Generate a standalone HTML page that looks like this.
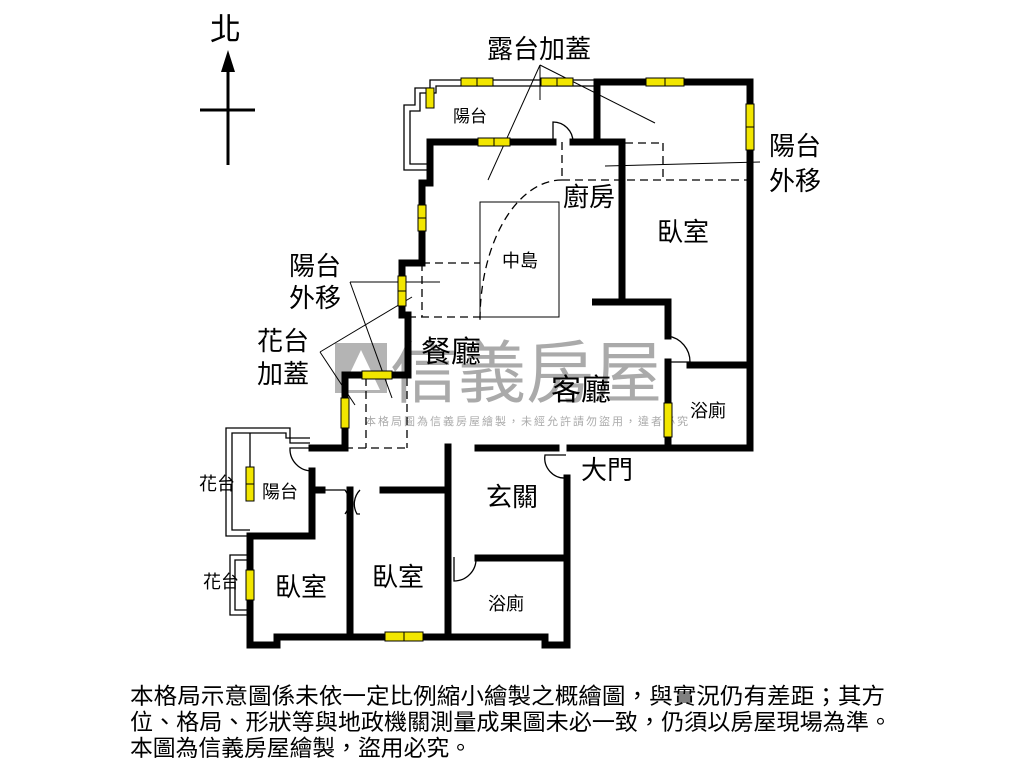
<!DOCTYPE html>
<html><head><meta charset="utf-8"><style>
body{margin:0;background:#fff;width:1024px;height:768px;overflow:hidden}
svg text{font-family:"Liberation Sans","Noto Sans CJK TC",sans-serif;fill:#000}
</style></head><body>
<svg width="1024" height="768" viewBox="0 0 1024 768" xmlns="http://www.w3.org/2000/svg">
<!-- compass -->
<text x="210" y="40" font-size="31">北</text>
<line x1="228" y1="70" x2="228" y2="165" stroke="#000" stroke-width="3"/>
<line x1="200" y1="110" x2="255" y2="110" stroke="#000" stroke-width="3"/>
<polygon points="228,50 221,72 235,72" fill="#000"/>

<!-- watermark -->
<g opacity="0.55">
<rect x="335" y="343" width="52" height="50" fill="#777"/>
<polygon points="342,390 361,350 380,390" fill="#fff"/>
<text x="390" y="397" font-size="68" style="fill:#666">信義房屋</text>
<text x="365" y="425" font-size="11" style="fill:#666" letter-spacing="2">本格局圖為信義房屋繪製，未經允許請勿盜用，違者必究</text>
</g>

<!-- thin double lines (balconies) -->
<g fill="none" stroke="#000" stroke-width="1.3">
<polyline points="597,80 430,80 430,88 415,88 415,105 404,105 404,170 430,170"/>
<polyline points="597,86 436,86 436,93 420,93 420,111 410,111 410,164 430,164"/>
<polyline points="310,443 290,443 290,428 226,428 226,536 250,536"/>
<polyline points="310,438 286,438 286,433 232,433 232,530 250,530"/>
<polyline points="250,555 230,555 230,615 250,615"/>
<polyline points="250,560 235,560 235,610 250,610"/>
<polyline points="250,433 250,470"/>
</g>

<!-- walls -->
<g fill="none" stroke="#000" stroke-width="7" stroke-linecap="square">
<polyline points="597,140 597,82 750,82 750,448"/>
<polyline points="553,142 430,142 430,183 422,183 422,263 402,263 402,315 408,315 408,375 345,375 345,448 312,448"/>
<polyline points="573,142 622,142 622,302 592,302 622,302 668,302 668,336"/>
<polyline points="668,362 668,448"/>
<polyline points="690,365 750,365"/>
<polyline points="478,448 556,448"/>
<polyline points="570,448 750,448"/>
<polyline points="312,471 312,536 250,536 250,645 277,645 277,637 545,637 545,645 567,645 567,478"/>
<polyline points="312,490 322,490"/>
<polyline points="383,490 448,490"/>
<polyline points="350,490 350,637"/>
<polyline points="448,447 448,637"/>
<polyline points="478,558 567,558"/>
</g>

<!-- doors -->
<g fill="none" stroke="#000" stroke-width="1.3">
<path d="M553,142 L553,122 A20,20 0 0 1 573,142"/>
<path d="M668,336 A26,26 0 0 1 690,362 L668,362"/>
<path d="M312,448 L290,448 A22,22 0 0 0 312,471"/>
<path d="M325,490 L345,490 A20,20 0 0 1 345,514"/>
<path d="M360,490 A20,20 0 0 0 357,514 L360,514"/>
<path d="M566,478 A20,20 0 0 1 545,455 L566,455"/>
<path d="M454,557 L454,581 A22,22 0 0 0 476,558"/>
</g>

<!-- dashed -->
<g fill="none" stroke="#000" stroke-width="1.3" stroke-dasharray="8,5">
<line x1="422" y1="263" x2="480" y2="263"/>
<line x1="408" y1="317" x2="480" y2="317"/>
<line x1="422" y1="263" x2="422" y2="317"/>
<line x1="562" y1="142" x2="562" y2="180"/>
<line x1="562" y1="180" x2="750" y2="180"/>
<line x1="625" y1="143" x2="663" y2="143"/>
<line x1="663" y1="143" x2="663" y2="180"/>
<path d="M562,180 A82,140 0 0 0 480,320"/>
<line x1="366" y1="378" x2="366" y2="448"/>
<line x1="407" y1="378" x2="407" y2="448"/>
<line x1="345" y1="448" x2="407" y2="448"/>
</g>
<rect x="480" y="202" width="79" height="115" fill="none" stroke="#000" stroke-width="1"/>

<!-- leader lines -->
<g stroke="#000" stroke-width="1" fill="none">
<line x1="540" y1="65" x2="488" y2="180"/>
<line x1="540" y1="65" x2="540" y2="100"/>
<line x1="540" y1="65" x2="655" y2="123"/>
<line x1="605" y1="166" x2="760" y2="162"/>
<line x1="350" y1="282" x2="440" y2="282"/>
<line x1="350" y1="282" x2="392" y2="398"/>
<line x1="320" y1="352" x2="412" y2="297"/>
<line x1="320" y1="352" x2="355" y2="405"/>
</g>

<!-- windows -->
<g fill="#f2e600" stroke="#000" stroke-width="1">
<rect x="461" y="78" width="32" height="8"/><line x1="477" y1="78" x2="477" y2="86"/>
<rect x="541" y="78" width="32" height="8"/><line x1="557" y1="78" x2="557" y2="86"/>
<rect x="646" y="78" width="38" height="8"/><line x1="665" y1="78" x2="665" y2="86"/>
<rect x="746" y="104" width="8" height="46"/><line x1="746" y1="127" x2="754" y2="127"/>
<rect x="426" y="88" width="8" height="20"/>
<rect x="478" y="138" width="32" height="8"/><line x1="494" y1="138" x2="494" y2="146"/>
<rect x="418" y="205" width="8" height="26"/><line x1="418" y1="218" x2="426" y2="218"/>
<rect x="398" y="276" width="8" height="30"/><line x1="398" y1="291" x2="406" y2="291"/>
<rect x="362" y="371" width="30" height="8"/>
<rect x="341" y="398" width="8" height="30"/>
<rect x="664" y="403" width="8" height="34"/>
<rect x="246" y="467" width="8" height="34"/><line x1="246" y1="484" x2="254" y2="484"/>
<rect x="246" y="570" width="8" height="30"/>
<rect x="385" y="632" width="38" height="9"/><line x1="404" y1="632" x2="404" y2="641"/>
</g>

<!-- labels -->
<text x="487" y="58" font-size="26">露台加蓋</text>
<text x="453" y="122" font-size="17">陽台</text>
<text x="563" y="206" font-size="26">廚房</text>
<text x="657" y="241" font-size="26">臥室</text>
<text x="502" y="267" font-size="18">中島</text>
<text x="769" y="155" font-size="26">陽台</text>
<text x="769" y="190" font-size="26">外移</text>
<text x="289" y="275" font-size="26">陽台</text>
<text x="289" y="307" font-size="26">外移</text>
<text x="257" y="350" font-size="26">花台</text>
<text x="257" y="383" font-size="26">加蓋</text>
<text x="421" y="362" font-size="30">餐廳</text>
<text x="551" y="400" font-size="30">客廳</text>
<text x="690" y="417" font-size="18">浴廁</text>
<text x="581" y="479" font-size="26">大門</text>
<text x="486" y="506" font-size="26">玄關</text>
<text x="262" y="498" font-size="18">陽台</text>
<text x="199" y="490" font-size="18">花台</text>
<text x="203" y="588" font-size="18">花台</text>
<text x="275" y="596" font-size="26">臥室</text>
<text x="372" y="586" font-size="26">臥室</text>
<text x="488" y="610" font-size="18">浴廁</text>

<text x="130" y="704" font-size="22.8" textLength="755" lengthAdjust="spacingAndGlyphs">本格局示意圖係未依一定比例縮小繪製之概繪圖，與實況仍有差距；其方</text>
<text x="130" y="730" font-size="22.8" textLength="762" lengthAdjust="spacingAndGlyphs">位、格局、形狀等與地政機關測量成果圖未必一致，仍須以房屋現場為準。</text>
<text x="130" y="756" font-size="22.8">本圖為信義房屋繪製，盜用必究。</text>
</svg>
</body></html>
